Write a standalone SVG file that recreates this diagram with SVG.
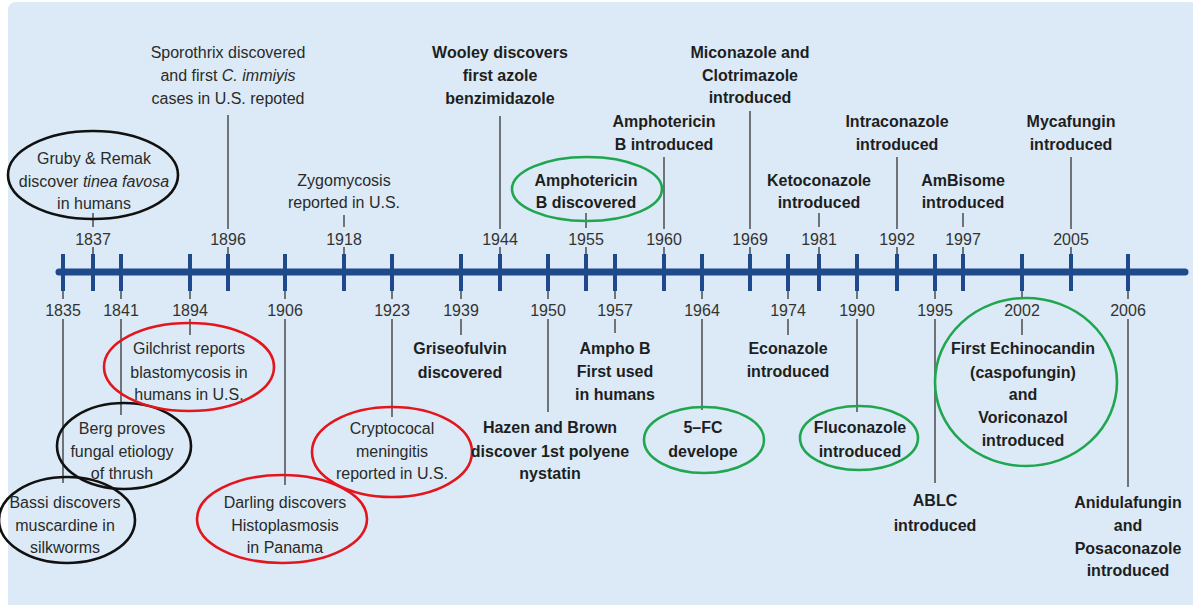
<svg xmlns="http://www.w3.org/2000/svg" width="1193" height="605" viewBox="0 0 1193 605">
<style>
text{font-family:"Liberation Sans",Arial,sans-serif;font-size:16px;text-anchor:middle;fill:#2a2a2a}
.b{font-weight:bold;fill:#1e1e1e}
.yr{fill:#333}
.it{font-style:italic}
.ell{fill:none;stroke-width:2.6}
.k{stroke:#111}
.r{stroke:#e3161d}
.g{stroke:#1fa64e}
.c line{stroke:#333;stroke-width:1.3}
.tk line{stroke:#1e4a8c;stroke-width:4}
</style>
<rect x="8" y="2" width="1190" height="610" rx="8" fill="#dbeaf6"/>

<g id="axis">
<line x1="59" y1="272" x2="1185" y2="272" stroke="#1e4a8c" stroke-width="7" stroke-linecap="round"/>
<g class="tk">
<line x1="63" y1="254" x2="63" y2="291"/><line x1="93" y1="254" x2="93" y2="291"/><line x1="121" y1="254" x2="121" y2="291"/>
<line x1="190" y1="254" x2="190" y2="291"/><line x1="228" y1="254" x2="228" y2="291"/><line x1="285" y1="254" x2="285" y2="291"/>
<line x1="344" y1="254" x2="344" y2="291"/><line x1="392" y1="254" x2="392" y2="291"/><line x1="461" y1="254" x2="461" y2="291"/>
<line x1="500" y1="254" x2="500" y2="291"/><line x1="548" y1="254" x2="548" y2="291"/><line x1="586" y1="254" x2="586" y2="291"/>
<line x1="615" y1="254" x2="615" y2="291"/><line x1="664" y1="254" x2="664" y2="291"/><line x1="702" y1="254" x2="702" y2="291"/>
<line x1="750" y1="254" x2="750" y2="291"/><line x1="788" y1="254" x2="788" y2="291"/><line x1="819" y1="254" x2="819" y2="291"/>
<line x1="857" y1="254" x2="857" y2="291"/><line x1="897" y1="254" x2="897" y2="291"/><line x1="935" y1="254" x2="935" y2="291"/>
<line x1="963" y1="254" x2="963" y2="291"/><line x1="1022" y1="254" x2="1022" y2="291"/><line x1="1071" y1="254" x2="1071" y2="291"/>
<line x1="1128" y1="254" x2="1128" y2="291"/>
</g>
</g>

<g id="connectors" class="c">
<line x1="93" y1="213" x2="93" y2="227"/><line x1="93" y1="247" x2="93" y2="254"/>
<line x1="228" y1="115" x2="228" y2="229"/><line x1="228" y1="247" x2="228" y2="254"/>
<line x1="344" y1="215" x2="344" y2="227"/><line x1="344" y1="247" x2="344" y2="254"/>
<line x1="500" y1="116" x2="500" y2="229"/><line x1="500" y1="247" x2="500" y2="254"/>
<line x1="586" y1="213" x2="586" y2="228"/><line x1="586" y1="247" x2="586" y2="254"/>
<line x1="664" y1="157" x2="664" y2="229"/><line x1="664" y1="247" x2="664" y2="254"/>
<line x1="750" y1="111" x2="750" y2="229"/><line x1="750" y1="247" x2="750" y2="254"/>
<line x1="819" y1="213" x2="819" y2="227"/><line x1="819" y1="247" x2="819" y2="254"/>
<line x1="897" y1="157" x2="897" y2="229"/><line x1="897" y1="247" x2="897" y2="254"/>
<line x1="963" y1="213" x2="963" y2="227"/><line x1="963" y1="247" x2="963" y2="254"/>
<line x1="1071" y1="157" x2="1071" y2="229"/><line x1="1071" y1="247" x2="1071" y2="254"/>

<line x1="63" y1="291" x2="63" y2="299"/><line x1="63" y1="319" x2="63" y2="483"/>
<line x1="121" y1="291" x2="121" y2="299"/><line x1="121" y1="319" x2="121" y2="415"/>
<line x1="190" y1="291" x2="190" y2="299"/><line x1="190" y1="319" x2="190" y2="335"/>
<line x1="285" y1="291" x2="285" y2="299"/><line x1="285" y1="319" x2="285" y2="485"/>
<line x1="392" y1="291" x2="392" y2="299"/><line x1="392" y1="319" x2="392" y2="417"/>
<line x1="461" y1="291" x2="461" y2="299"/><line x1="461" y1="319" x2="461" y2="335"/>
<line x1="548" y1="291" x2="548" y2="299"/><line x1="548" y1="319" x2="548" y2="412"/>
<line x1="615" y1="291" x2="615" y2="299"/><line x1="615" y1="319" x2="615" y2="333"/>
<line x1="702" y1="291" x2="702" y2="299"/><line x1="702" y1="319" x2="702" y2="410"/>
<line x1="788" y1="291" x2="788" y2="299"/><line x1="788" y1="319" x2="788" y2="335"/>
<line x1="857" y1="291" x2="857" y2="299"/><line x1="857" y1="319" x2="857" y2="412"/>
<line x1="935" y1="291" x2="935" y2="299"/><line x1="935" y1="319" x2="935" y2="483"/>
<line x1="1022" y1="291" x2="1022" y2="299"/><line x1="1022" y1="319" x2="1022" y2="335"/>
<line x1="1128" y1="291" x2="1128" y2="299"/><line x1="1128" y1="319" x2="1128" y2="487"/>
</g>

<g id="years">
<text class="yr" x="93" y="245">1837</text>
<text class="yr" x="228" y="245">1896</text>
<text class="yr" x="344" y="245">1918</text>
<text class="yr" x="500" y="245">1944</text>
<text class="yr" x="586" y="245">1955</text>
<text class="yr" x="664" y="245">1960</text>
<text class="yr" x="750" y="245">1969</text>
<text class="yr" x="819" y="245">1981</text>
<text class="yr" x="897" y="245">1992</text>
<text class="yr" x="963" y="245">1997</text>
<text class="yr" x="1071" y="245">2005</text>
<text class="yr" x="63" y="316">1835</text>
<text class="yr" x="121" y="316">1841</text>
<text class="yr" x="190" y="316">1894</text>
<text class="yr" x="285" y="316">1906</text>
<text class="yr" x="392" y="316">1923</text>
<text class="yr" x="461" y="316">1939</text>
<text class="yr" x="548" y="316">1950</text>
<text class="yr" x="615" y="316">1957</text>
<text class="yr" x="702" y="316">1964</text>
<text class="yr" x="788" y="316">1974</text>
<text class="yr" x="857" y="316">1990</text>
<text class="yr" x="935" y="316">1995</text>
<text class="yr" x="1022" y="316">2002</text>
<text class="yr" x="1128" y="316">2006</text>
</g>

<g id="e1837">
<ellipse class="ell k" cx="93" cy="175" rx="85" ry="44"/>
<text x="94" y="164">Gruby &amp; Remak</text>
<text x="94" y="187">discover <tspan class="it">tinea favosa</tspan></text>
<text x="94" y="209">in humans</text>
</g>
<g id="e1896">
<text x="228" y="58">Sporothrix discovered</text>
<text x="228" y="81">and first <tspan class="it">C. immiyis</tspan></text>
<text x="228" y="104">cases in U.S. repoted</text>
</g>
<g id="e1918">
<text x="344" y="186">Zygomycosis</text>
<text x="344" y="208">reported in U.S.</text>
</g>
<g id="e1944">
<text class="b" x="500" y="58">Wooley discovers</text>
<text class="b" x="500" y="81">first azole</text>
<text class="b" x="500" y="104">benzimidazole</text>
</g>
<g id="e1955">
<ellipse class="ell g" cx="587" cy="189" rx="75" ry="32"/>
<text class="b" x="586" y="186">Amphotericin</text>
<text class="b" x="586" y="208">B discovered</text>
</g>
<g id="e1960">
<text class="b" x="664" y="127">Amphotericin</text>
<text class="b" x="664" y="150">B introduced</text>
</g>
<g id="e1969">
<text class="b" x="750" y="58">Miconazole and</text>
<text class="b" x="750" y="81">Clotrimazole</text>
<text class="b" x="750" y="103">introduced</text>
</g>
<g id="e1981">
<text class="b" x="819" y="186">Ketoconazole</text>
<text class="b" x="819" y="208">introduced</text>
</g>
<g id="e1992">
<text class="b" x="897" y="127">Intraconazole</text>
<text class="b" x="897" y="150">introduced</text>
</g>
<g id="e1997">
<text class="b" x="963" y="186">AmBisome</text>
<text class="b" x="963" y="208">introduced</text>
</g>
<g id="e2005">
<text class="b" x="1071" y="127">Mycafungin</text>
<text class="b" x="1071" y="150">introduced</text>
</g>

<g id="e1835">
<ellipse class="ell k" cx="67" cy="520" rx="68" ry="43"/>
<text x="65" y="508">Bassi discovers</text>
<text x="65" y="531">muscardine in</text>
<text x="65" y="553">silkworms</text>
</g>
<g id="e1841">
<ellipse class="ell k" cx="124" cy="446" rx="67" ry="43"/>
<text x="122" y="434">Berg proves</text>
<text x="122" y="457">fungal etiology</text>
<text x="122" y="479">of thrush</text>
</g>
<g id="e1894">
<ellipse class="ell r" cx="189" cy="367" rx="85" ry="44"/>
<text x="189" y="354">Gilchrist reports</text>
<text x="189" y="378">blastomycosis in</text>
<text x="189" y="400">humans in U.S.</text>
</g>
<g id="e1906">
<ellipse class="ell r" cx="282" cy="519" rx="85" ry="44"/>
<text x="285" y="508">Darling discovers</text>
<text x="285" y="531">Histoplasmosis</text>
<text x="285" y="553">in Panama</text>
</g>
<g id="e1923">
<ellipse class="ell r" cx="392" cy="452" rx="80" ry="45"/>
<text x="392" y="434">Cryptococal</text>
<text x="392" y="457">meningitis</text>
<text x="392" y="479">reported in U.S.</text>
</g>
<g id="e1939">
<text class="b" x="460" y="354">Griseofulvin</text>
<text class="b" x="460" y="378">discovered</text>
</g>
<g id="e1950">
<text class="b" x="550" y="433">Hazen and Brown</text>
<text class="b" x="550" y="457">discover 1st polyene</text>
<text class="b" x="550" y="479">nystatin</text>
</g>
<g id="e1957">
<text class="b" x="615" y="354">Ampho B</text>
<text class="b" x="615" y="377">First used</text>
<text class="b" x="615" y="400">in humans</text>
</g>
<g id="e1964">
<ellipse class="ell g" cx="704" cy="440" rx="60" ry="33"/>
<text class="b" x="703" y="433">5–FC</text>
<text class="b" x="703" y="457">develope</text>
</g>
<g id="e1974">
<text class="b" x="788" y="354">Econazole</text>
<text class="b" x="788" y="377">introduced</text>
</g>
<g id="e1990">
<ellipse class="ell g" cx="859" cy="438" rx="59" ry="32"/>
<text class="b" x="860" y="433">Fluconazole</text>
<text class="b" x="860" y="457">introduced</text>
</g>
<g id="e1995">
<text class="b" x="935" y="506">ABLC</text>
<text class="b" x="935" y="531">introduced</text>
</g>
<g id="e2002">
<ellipse class="ell g" cx="1026" cy="382" rx="91" ry="84"/>
<text class="b" x="1023" y="354">First Echinocandin</text>
<text class="b" x="1023" y="378">(caspofungin)</text>
<text class="b" x="1023" y="400">and</text>
<text class="b" x="1023" y="423">Voriconazol</text>
<text class="b" x="1023" y="446">introduced</text>
</g>
<g id="e2006">
<text class="b" x="1128" y="508">Anidulafungin</text>
<text class="b" x="1128" y="531">and</text>
<text class="b" x="1128" y="554">Posaconazole</text>
<text class="b" x="1128" y="576">introduced</text>
</g>
</svg>
